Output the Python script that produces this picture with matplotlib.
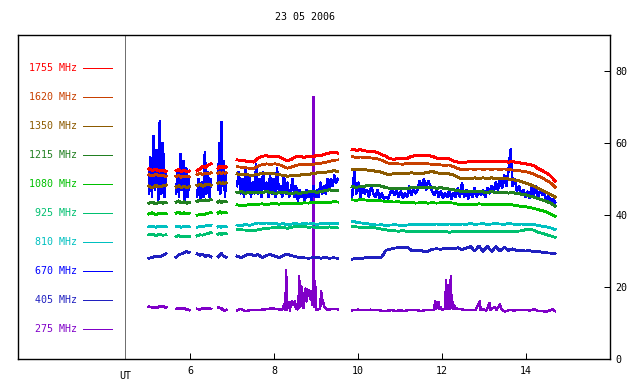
import numpy as np
import matplotlib
matplotlib.use("Agg")
import matplotlib.pyplot as plt

plt.rcParams['font.family'] = ['DejaVu Sans Mono']
plt.rcParams['lines.antialiased'] = False

title = "23 05 2006"
x_ticks = [6, 8, 10, 12, 14]
y_ticks = [0, 20, 40, 60, 80]

segments = [(5.02, 5.43), (5.67, 5.98), (6.17, 6.50), (6.67, 6.86), (7.12, 9.52), (9.86, 14.69)]

freqs = ["1755 MHz", "1620 MHz", "1350 MHz", "1215 MHz", "1080 MHz",
         "925 MHz", "810 MHz", "670 MHz", "405 MHz", "275 MHz"]
colors = ["#ff0000", "#c84000", "#8c5a00", "#228022", "#00c000",
          "#00c070", "#00c0c0", "#0000ff", "#2020c0", "#8000c8"]

f1755 = [
    [52.8, 52.4, 52.7, 52.2, 52.5, 52.1],
    [52.3, 52.6, 52.0, 52.4, 52.1, 52.2],
    [52.3, 52.8, 53.5, 53.2, 53.9, 54.2],
    [53.0, 53.5, 53.2, 53.6, 53.1, 53.4],
    [55.3, 55.2, 55.0, 54.8, 54.7, 55.8, 56.3, 56.5, 56.2, 56.4, 56.2, 55.6, 55.0, 55.5, 56.2,
     56.3, 56.0, 56.4, 56.1, 56.6, 56.5, 56.9, 57.2, 57.4, 57.2],
    [58.2, 58.0, 58.1, 57.8, 57.7, 57.6, 57.4, 56.8, 56.3, 55.6, 55.5, 55.7, 55.8, 55.7, 56.3,
     56.5, 56.4, 56.6, 56.5, 56.3, 55.8, 55.7, 55.6, 55.6, 55.0, 54.7, 54.5, 54.7, 54.8, 54.9,
     54.8, 54.9, 54.8, 54.9, 54.8, 54.9, 54.8, 54.7, 54.8, 54.6, 54.4, 54.2, 54.0, 53.7, 52.9,
     52.3, 51.7, 50.8, 49.5],
]
f1620 = [
    [51.2, 50.8, 51.3, 50.9, 51.0, 50.7],
    [50.7, 51.0, 50.5, 50.8, 50.6, 50.7],
    [51.2, 51.5, 51.3, 51.6, 51.4, 51.7],
    [51.6, 51.9, 51.5, 51.8, 51.6, 51.7],
    [53.4, 53.3, 53.1, 53.0, 52.9, 53.6, 54.0, 54.2, 54.1, 54.2, 54.0, 53.5, 53.0, 53.3, 53.8,
     54.0, 53.9, 54.1, 54.0, 54.3, 54.4, 54.6, 54.9, 55.2, 55.3],
    [56.2, 56.0, 56.1, 56.0, 55.9, 55.8, 55.6, 55.2, 54.6, 54.3, 54.2, 54.2, 54.1, 54.3, 54.4,
     54.3, 54.4, 54.3, 54.2, 54.1, 54.0, 53.9, 53.8, 53.9, 53.4, 52.9, 52.6, 52.7, 52.8, 52.7,
     52.8, 52.7, 52.8, 52.7, 52.8, 52.7, 52.8, 52.6, 52.5, 52.4, 52.2, 52.0, 51.8, 51.3, 50.8,
     50.3, 49.6, 48.9, 47.8],
]
f1350 = [
    [48.0, 47.6, 48.2, 47.8, 48.1, 48.3],
    [47.8, 48.1, 47.6, 47.9, 47.7, 47.8],
    [48.2, 48.5, 48.0, 48.4, 48.6, 48.3],
    [48.8, 49.1, 48.7, 49.0, 48.8, 48.9],
    [51.4, 51.3, 51.2, 51.1, 51.1, 51.3, 51.5, 51.6, 51.5, 51.4, 51.2, 51.0, 50.8, 50.9, 51.0,
     51.1, 51.2, 51.3, 51.5, 51.7, 51.8, 51.9, 52.0, 52.3, 52.1],
    [52.7, 52.6, 52.5, 52.6, 52.4, 52.3, 52.1, 51.9, 51.4, 51.3, 51.5, 51.6, 51.5, 51.6, 51.7,
     51.6, 51.5, 51.6, 51.9, 52.1, 51.7, 51.6, 51.5, 51.4, 51.1, 50.5, 50.0, 50.1, 50.2, 50.3,
     50.2, 50.3, 50.2, 50.3, 50.2, 50.1, 50.2, 50.0, 49.8, 49.6, 49.3, 48.9, 48.5, 48.0, 47.4,
     46.8, 46.2, 45.7, 45.0],
]
f1215 = [
    [43.3, 43.6, 43.1, 43.5, 43.3, 43.4],
    [43.6, 43.9, 43.4, 43.7, 43.3, 43.5],
    [43.8, 44.1, 43.9, 44.2, 44.0, 44.3],
    [43.6, 43.9, 43.5, 43.8, 43.6, 43.7],
    [46.2, 46.5, 46.0, 46.3, 46.1, 46.4, 46.2, 46.5, 46.3, 46.0, 46.2, 46.4, 46.1, 45.9, 46.2,
     46.0, 46.3, 46.4, 46.6, 46.3, 46.5, 46.8, 47.0, 46.7, 46.9],
    [47.9, 47.7, 47.9, 48.0, 48.3, 48.2, 48.3, 48.0, 47.6, 47.4, 47.5, 47.3, 47.5, 47.4, 47.6,
     47.5, 47.7, 47.6, 47.5, 47.7, 47.4, 47.6, 47.3, 47.2, 47.0, 46.8, 46.5, 46.6, 46.4, 46.6,
     46.5, 46.4, 46.3, 46.5, 46.2, 46.3, 46.2, 46.1, 46.2, 46.0, 45.8, 45.6, 45.3, 45.0, 44.6,
     44.2, 43.8, 43.3, 42.5],
]
f1080 = [
    [40.3, 40.6, 40.1, 40.5, 40.3, 40.4],
    [40.5, 40.8, 40.3, 40.6, 40.4, 40.5],
    [39.9, 40.2, 40.0, 40.3, 40.5, 40.7],
    [40.6, 40.9, 40.5, 40.8, 40.6, 40.7],
    [42.8, 42.6, 42.7, 42.9, 42.8, 43.0, 43.1, 42.9, 43.1, 43.2, 43.0, 43.3, 43.2, 43.1, 43.3,
     43.2, 43.4, 43.3, 43.5, 43.4, 43.5, 43.6, 43.5, 43.7, 43.6],
    [44.2, 44.1, 44.3, 44.2, 44.0, 44.1, 44.0, 43.9, 43.8, 43.7, 43.6, 43.7, 43.5, 43.4, 43.5,
     43.3, 43.4, 43.5, 43.3, 43.4, 43.3, 43.4, 43.5, 43.4, 43.3, 43.0, 42.8, 42.9, 43.0, 42.9,
     43.1, 43.0, 42.9, 43.0, 42.9, 43.0, 42.8, 42.9, 42.8, 42.6, 42.4, 42.3, 42.1, 41.8, 41.5,
     41.2, 40.8, 40.3, 39.7],
]
f925 = [
    [34.5, 34.7, 34.3, 34.6, 34.4, 34.5],
    [34.0, 34.3, 33.9, 34.2, 34.0, 34.1],
    [34.2, 34.5, 34.4, 34.7, 34.9, 35.1],
    [34.7, 35.0, 34.6, 34.9, 34.7, 34.8],
    [36.0, 35.9, 35.8, 35.6, 35.7, 35.9, 36.1, 36.3, 36.4, 36.5, 36.4, 36.5, 36.3, 36.6, 36.8,
     36.7, 36.8, 36.6, 36.7, 36.5, 36.6, 36.5, 36.7, 36.5, 36.4],
    [36.8, 36.7, 36.6, 36.5, 36.6, 36.5, 36.3, 36.1, 35.9, 35.7, 35.6, 35.5, 35.7, 35.4, 35.5,
     35.3, 35.4, 35.5, 35.3, 35.4, 35.5, 35.3, 35.4, 35.2, 35.4, 35.3, 35.5, 35.4, 35.3, 35.5,
     35.4, 35.3, 35.5, 35.4, 35.3, 35.4, 35.5, 35.4, 35.3, 35.5, 35.6, 35.9, 36.0, 35.8, 35.2,
     34.9, 34.5, 34.2, 33.8],
]
f810 = [
    [36.7, 36.9, 36.6, 36.9, 36.7, 36.8],
    [36.7, 36.9, 36.6, 36.8, 36.7, 36.8],
    [36.6, 36.8, 36.7, 37.0, 37.2, 37.1],
    [36.7, 36.9, 36.6, 36.9, 36.7, 36.8],
    [37.2, 37.0, 37.4, 37.1, 37.5, 37.8, 37.6, 37.8, 37.5, 37.7, 37.4, 37.6, 37.3, 37.5, 37.6,
     37.4, 37.7, 37.5, 37.6, 37.4, 37.6, 37.5, 37.7, 37.5, 37.6],
    [38.3, 38.0, 37.8, 37.7, 37.5, 37.3, 37.2, 37.3, 37.1, 37.2, 37.3, 37.2, 37.1, 37.2, 37.4,
     37.3, 37.5, 37.4, 37.3, 37.4, 37.5, 37.3, 37.4, 37.5, 37.4, 37.3, 37.5, 37.4, 37.6, 37.4,
     37.5, 37.6, 37.4, 37.5, 37.6, 37.5, 37.4, 37.6, 37.5, 37.4, 37.5, 37.4, 37.3, 37.3, 37.1,
     36.9, 36.7, 36.4, 36.0],
]
f670 = [
    [46, 56, 45, 62, 47, 58, 44, 66, 46, 60, 45, 52],
    [46, 52, 45, 57, 47, 55, 44, 53, 45, 50],
    [45, 50, 44.5, 49, 45, 57.5, 46, 52, 45, 50],
    [47, 60, 46, 65.8, 48, 55, 45, 52],
    [48, 52, 46, 50, 45, 53, 47, 51, 45, 49, 46,
     54, 46, 50, 45, 52, 47, 49, 45, 51, 46,
     50, 45, 53, 47, 48, 45, 51, 46, 49, 45, 47,
     50, 45, 48, 44, 47, 45, 46, 44, 47, 45,
     46, 44, 48, 45, 47, 45, 49, 46, 48, 46, 50,
     47, 50, 48, 51, 49, 50],
    [45, 52, 46, 49, 45, 48, 46, 47, 45, 48, 46,
     45, 47, 44.5, 46, 44.5, 45, 44.5, 46, 47.5, 45.5,
     47, 45, 46.5, 44.8, 46, 45, 48, 45.5, 47.5, 46,
     47, 49.5, 47.5, 50, 47, 49.5, 48, 46.5, 45.5, 47,
     45, 46.5, 44.8, 46, 45, 47, 44.5, 46, 45, 47.4,
     45, 48.8, 45, 47, 44.6, 46.5, 45, 47.5, 45, 46.5,
     45.5, 47, 45, 47.5, 46, 48, 46.5, 49, 47, 50,
     47.5, 51, 48, 52.3, 58.2, 48, 50, 46.5, 48, 46,
     47, 45, 46.5, 44.8, 47.8, 45.5, 48, 45, 47, 45.5,
     46, 44, 45.5, 43.5, 44.5, 43.5],
]
f405 = [
    [28.0, 28.2, 28.5, 28.4, 28.7, 29.3],
    [28.3, 28.9, 29.2, 29.5, 29.8, 29.6],
    [29.2, 28.8, 29.1, 28.5, 28.9, 28.4],
    [28.4, 28.9, 29.3, 28.8, 28.4, 28.3],
    [28.6, 28.1, 28.8, 29.2, 28.7, 29.0, 28.2, 28.8, 29.0, 28.6, 28.1, 28.8, 29.1, 28.7, 28.4,
     28.2, 28.1, 28.0, 28.1, 28.2, 28.0, 28.2, 28.0, 28.1, 28.0],
    [27.7, 28.0, 27.9, 28.1, 28.2, 28.1, 28.3, 28.3, 30.2, 30.5, 30.8, 30.9, 31.0, 31.1, 30.2,
     30.1, 30.3, 29.8, 29.9, 30.5, 30.6, 30.5, 30.7, 30.6, 30.6, 30.9, 30.4, 30.8, 31.2, 30.0,
     31.4, 29.9, 31.3, 29.9, 31.2, 30.0, 31.0, 30.2, 30.6, 30.1, 30.2, 30.0, 30.1, 29.8, 30.0,
     29.6, 29.5, 29.4, 29.2],
]
f275_early = [
    [14.5, 14.4, 14.2, 14.5, 14.6, 14.3],
    [13.9, 14.0, 13.9, 14.0, 13.8, 13.6],
    [13.9, 13.8, 14.0, 13.9, 14.0, 13.9],
    [14.3, 14.2, 14.1, 13.7, 13.5, 13.6],
]
f275_s5_t = [7.12, 7.2, 7.3, 7.4, 7.5, 7.6, 7.7, 7.8, 7.9, 8.0, 8.1, 8.2, 8.25, 8.27, 8.29,
             8.31, 8.35, 8.38, 8.40, 8.44, 8.47, 8.50, 8.52, 8.55, 8.58, 8.60, 8.62, 8.65, 8.67,
             8.70, 8.73, 8.75, 8.77, 8.78, 8.80, 8.82, 8.84, 8.87, 8.90, 8.92, 8.94, 8.96, 8.98,
             9.00, 9.05, 9.10, 9.12, 9.15, 9.20, 9.25, 9.35, 9.45, 9.52]
f275_s5_v = [13.4, 14.0, 13.3, 13.5, 13.6, 13.6, 13.7, 13.8, 14.0, 14.0, 13.8, 13.8, 15.3, 13.6, 24.7,
             13.6, 15.7, 13.5, 15.6, 16.0, 15.0, 16.2, 14.0, 13.8, 14.2, 23.0, 14.5, 20.3, 15.0,
             14.2, 18.5, 19.6, 16.0, 19.4, 17.5, 18.0, 19.2, 16.5, 18.0, 15.0, 72.8, 14.5, 21.7,
             13.8, 13.8, 13.9, 18.9, 16.6, 14.5, 13.8, 13.8, 13.9, 13.8]
f275_s6_t = [9.86, 10.0, 10.1, 10.3, 10.5, 10.6, 10.7, 10.8, 10.9, 11.0, 11.1, 11.2, 11.4, 11.5,
             11.6, 11.8, 11.84, 11.86, 11.88, 11.90, 11.92, 11.94, 11.97, 12.0, 12.07, 12.10,
             12.12, 12.14, 12.16, 12.18, 12.21, 12.23, 12.25, 12.27, 12.29, 12.31, 12.35, 12.43,
             12.5, 12.6, 12.7, 12.8, 12.9, 12.92, 13.0, 13.05, 13.13, 13.15, 13.26, 13.3, 13.38,
             13.42, 13.5, 13.6, 13.7, 13.9, 14.1, 14.19, 14.3, 14.5, 14.63, 14.69]
f275_s6_v = [13.5, 13.7, 13.6, 13.7, 13.6, 13.3, 13.4, 13.6, 13.3, 13.6, 13.3, 13.6, 13.6, 13.3,
             13.6, 13.6, 16.1, 13.8, 15.9, 14.3, 15.9, 13.9, 14.4, 13.6, 14.0, 21.9,
             13.9, 14.5, 20.6, 13.8, 22.9, 14.2, 15.8, 13.8, 15.0, 13.9, 14.0, 13.9,
             13.7, 13.6, 13.6, 13.7, 16.1, 13.6, 13.8, 13.4, 15.5, 13.6, 14.5, 13.7, 15.1,
             13.7, 13.2, 13.6, 13.5, 13.6, 13.5, 13.8, 13.3, 13.2, 13.8, 13.3]

fig = plt.figure(figsize=(6.4, 3.84), dpi=100)
ax = fig.add_axes([18 / 640, 25 / 384, 592 / 640, 324 / 384])
ax.set_xlim(1.905, 16.0)
ax.set_ylim(0, 90)

# 275 MHz
for (s, e), vals in zip(segments[:4], f275_early):
    ax.plot(np.linspace(s, e, len(vals)), vals, color=colors[9], lw=1.3)
ax.plot(f275_s5_t, f275_s5_v, color=colors[9], lw=1.0)
ax.plot(f275_s6_t, f275_s6_v, color=colors[9], lw=1.0)

series = [(f405, colors[8], 1.3), (f670, colors[7], 1.1), (f810, colors[6], 1.3),
          (f925, colors[5], 1.3), (f1080, colors[4], 1.3), (f1215, colors[3], 1.4),
          (f1350, colors[2], 1.4), (f1620, colors[1], 1.3), (f1755, colors[0], 1.4)]
for data, col, w in series:
    for (s, e), vals in zip(segments, data):
        ax.plot(np.linspace(s, e, len(vals)), vals, color=col, lw=w)

# legend panel
sep_x = 4.45
ax.axvline(sep_x, color="#707070", lw=0.72)
for i, (lab, col) in enumerate(zip(freqs, colors)):
    yv = 80.8 - 8.06 * i
    ax.text(3.30, yv, lab, color=col, ha='right', va='center', fontsize=7.2)
    ax.plot([3.45, 4.14], [yv, yv], color=col, lw=0.72)

ax.yaxis.tick_right()
ax.set_yticks(y_ticks)
ax.set_xticks(x_ticks)
ax.set_xticklabels([str(v) for v in x_ticks])
ax.tick_params(axis='both', direction='in', length=4, width=0.72, labelsize=7.2)
ax.tick_params(axis='y', pad=4)
ax.tick_params(axis='x', pad=5)
for sp in ax.spines.values():
    sp.set_linewidth(1.0)

ax.text(sep_x, -3.4, "UT", ha='center', va='top', fontsize=7.2)
fig.text(305 / 640, 1 - 17 / 384, title, ha='center', va='center', fontsize=7.2)

fig.savefig("out.png", dpi=100)
